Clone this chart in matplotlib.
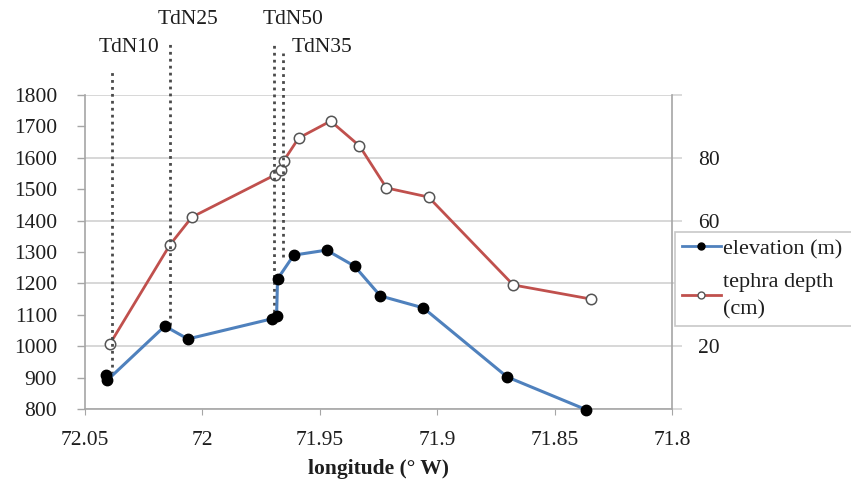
import matplotlib
matplotlib.use("Agg")
import matplotlib.pyplot as plt
from matplotlib.lines import Line2D

# ---- data ----
elev_lon = [72.0411, 72.0406, 72.0160, 72.0062, 71.9705, 71.9684, 71.9680,
            71.9611, 71.9471, 71.9352, 71.9242, 71.9059, 71.8702, 71.8366]
elevation = [908, 891, 1064, 1023, 1087, 1096, 1214,
             1290, 1306, 1255, 1160, 1122, 902, 798]

teph_lon = [72.0394, 72.0139, 72.0045, 71.9692, 71.9667, 71.9654, 71.9590,
            71.9454, 71.9331, 71.9216, 71.9037, 71.8676, 71.8344]
tephra = [20.7, 52.2, 61.1, 74.5, 76.1, 79.0, 86.3,
          91.7, 83.8, 70.4, 67.5, 39.5, 35.0]

site_names = ["TdN10", "TdN25", "TdN50", "TdN35"]
site_lon = [72.0385, 72.0139, 71.9696, 71.9658]
site_bottom = [912, 1066, 1088, 1285]

x_ticks = [72.05, 72.0, 71.95, 71.9, 71.85, 71.8]
x_tick_labels = ["72.05", "72", "71.95", "71.9", "71.85", "71.8"]
left_ticks = [800, 900, 1000, 1100, 1200, 1300, 1400, 1500, 1600, 1700, 1800]
right_ticks = [0, 20, 40, 60, 80, 100]
right_tick_labels = ["", "20", "40", "60", "80", ""]

# ---- style ----
plt.rcParams['font.family'] = ['Liberation Serif', 'DejaVu Serif']
FS = 15.5
TXT = '#1e1e1e'
SPINE = '#a6a6a6'
GRID = '#d4d4d4'
BLUE = '#4f81bd'
RED = '#c0504d'

W, H = 851, 484
fig = plt.figure(figsize=(W / 100, H / 100), dpi=100)
L, R, B, T = 85, 672, 409, 95
ax2 = fig.add_axes([L / W, 1 - B / H, (R - L) / W, (B - T) / H])
ax = fig.add_axes(ax2.get_position(), sharex=ax2)
ax.set_zorder(ax2.get_zorder() + 1)
ax.patch.set_visible(False)

# x axis
ax2.set_xlim(72.05, 71.8)
ax2.set_xticks(x_ticks)
ax2.set_xticklabels(x_tick_labels)
ax.tick_params(axis='x', which='both', bottom=False, labelbottom=False)

# right axis (tephra), in ax2
ax2.yaxis.tick_right()
ax2.set_ylim(0, 100)
ax2.set_yticks(right_ticks)
ax2.set_yticklabels(right_tick_labels)
ax2.yaxis.grid(True, color=GRID, lw=1.3)
ax2.set_axisbelow(True)
ax2.tick_params(axis='y', direction='out', length=7, width=1.2, color=GRID,
                pad=12, labelsize=FS, labelcolor=TXT)
ax2.tick_params(axis='x', direction='out', length=4, width=0.8, color=SPINE,
                pad=12, labelsize=FS, labelcolor=TXT)

# left axis (elevation)
ax.set_ylim(800, 1800)
ax.set_yticks(left_ticks)
ax.tick_params(axis='y', direction='out', length=6, width=1.0, color=SPINE,
               pad=14, labelsize=FS, labelcolor=TXT, left=True, labelleft=True,
               right=False, labelright=False)

for a in (ax, ax2):
    for s in a.spines.values():
        s.set_color(SPINE)
        s.set_linewidth(1.2)
    a.spines['top'].set_visible(False)
ax.spines['right'].set_visible(False)
ax.spines['bottom'].set_visible(False)
ax2.spines['left'].set_visible(False)

# site dotted lines and labels
site_top = [1880, 1969, 1969, 1934]
label_off = [(17, 22), (18, 22), (19, 22), (39, 5)]
for name, lon, bot, top, off in zip(site_names, site_lon, site_bottom, site_top, label_off):
    ax.plot([lon, lon], [bot, top], ls=(0, (1.0, 1.5)), color='#4a4a4a', lw=2.0,
            clip_on=False, zorder=1)
    ax.annotate(name, xy=(lon, top), xytext=off, textcoords='offset pixels',
                ha='center', va='center', fontsize=FS, color=TXT,
                annotation_clip=False)

# series
ax2.plot(teph_lon, tephra, color=RED, lw=2.0, marker='o', ms=7.5,
         mfc='white', mec='#555555', mew=1.1, zorder=3, clip_on=False)
ax.plot(elev_lon, elevation, color=BLUE, lw=2.2, marker='o', ms=7.5,
        mfc='black', mec='black', zorder=3, clip_on=False)

ax2.set_xlabel('longitude (° W)', fontsize=FS, fontweight='bold', color=TXT,
               labelpad=6)

handles = [Line2D([], [], color=BLUE, lw=2, marker='o', ms=5, mfc='black', mec='black'),
           Line2D([], [], color=RED, lw=2, marker='o', ms=5, mfc='white', mec='#555555')]
leg = fig.legend(handles, ['elevation (m)', 'tephra depth\n(cm)'],
                 loc='upper left',
                 bbox_to_anchor=(675 / W, 1 - 328 / H, (W - 675) / W + 0.01, 96 / H),
                 mode='expand',
                 fontsize=16, frameon=True, fancybox=False, framealpha=1,
                 edgecolor='#c8c8c8', handlelength=1.75, handletextpad=0.1,
                 borderpad=0.3, labelspacing=0.6, borderaxespad=0)
leg.get_frame().set_linewidth(1.2)
leg.set_zorder(10)
for t in leg.get_texts():
    t.set_color(TXT)
    t.set_linespacing(1.6)

fig.savefig('out.png', dpi=100)
